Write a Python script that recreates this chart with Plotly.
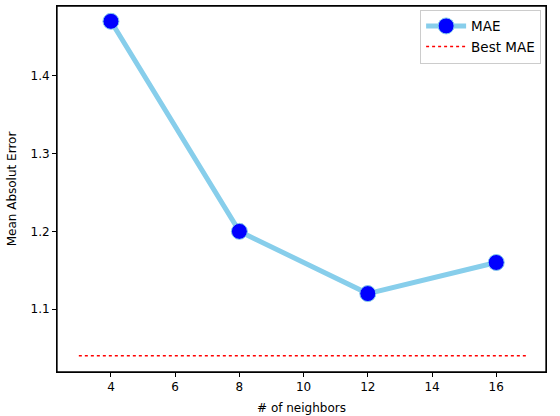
import plotly.graph_objects as go

# Data
neighbors = [4, 8, 12, 16]
mae = [1.47, 1.20, 1.12, 1.16]
best_x = [3, 17]
best_mae = [1.04, 1.04]

fig = go.Figure()
fig.add_trace(go.Scatter(x=neighbors, y=mae, name='MAE', mode='lines+markers',
                         line=dict(color='#87CEEB', width=5),
                         marker=dict(color='blue', size=16, line=dict(color='#87CEEB', width=1))))
fig.add_trace(go.Scatter(x=best_x, y=best_mae, name='Best MAE', mode='lines',
                         line=dict(color='red', width=1.5, dash='dot')))

axis_style = dict(showgrid=False, zeroline=False, showline=True, linecolor='black', linewidth=1,
                  mirror=True, ticks='outside', ticklen=4, tickcolor='black', automargin=False,
                  tickfont=dict(family='DejaVu Sans', size=12, color='black'))

fig.update_layout(
    width=560, height=416,
    margin=dict(l=57, r=14, t=6, b=44),
    plot_bgcolor='white', paper_bgcolor='white',
    font=dict(family='DejaVu Sans', size=12, color='black'),
    xaxis=dict(axis_style, range=[2.32, 17.55], tickvals=[4, 6, 8, 10, 12, 14, 16],
               title=dict(text='# of neighbors', font=dict(size=12), standoff=10)),
    yaxis=dict(axis_style, range=[1.0192, 1.4897], tickvals=[1.1, 1.2, 1.3, 1.4],
               ticktext=['1.1', '1.2', '1.3', '1.4'],
               title=dict(text='Mean Absolut Error', font=dict(size=12), standoff=11)),
    legend=dict(x=0.99, y=0.99, xanchor='right', yanchor='top', bgcolor='rgba(255,255,255,0.8)',
                bordercolor='#cccccc', borderwidth=1, font=dict(size=13.5), itemwidth=40),
    showlegend=True,
)

# frame around the axes box, like matplotlib's spines
fig.add_shape(type='rect', xref='paper', yref='paper', x0=0, y0=0, x1=1, y1=1,
              line=dict(color='black', width=1.3), layer='above')

# drop the page's default body margin so the figure sits at the window's corner
fig.write_html("out.html", config={'displayModeBar': False},
               post_script="document.body.style.margin='0';document.body.style.overflow='hidden';")
